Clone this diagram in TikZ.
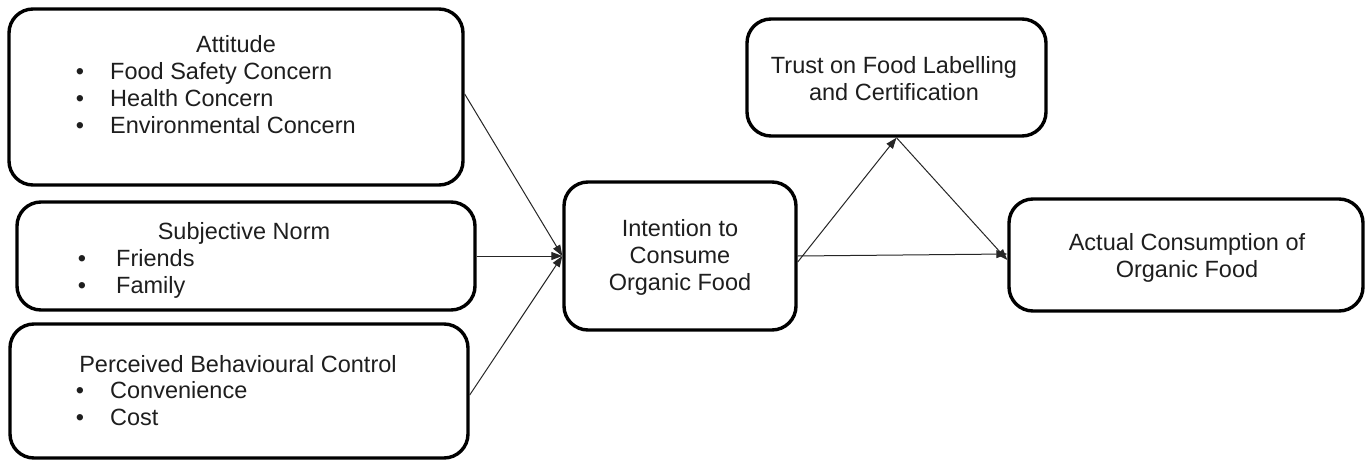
\documentclass[tikz,border=0pt]{standalone}
\usepackage{fontspec}
\setmainfont{Liberation Sans}
\usetikzlibrary{arrows.meta,calc}
\definecolor{txt}{HTML}{1E1E1E}
\tikzset{
  box/.style={draw=black, line width=3.4pt, rounded corners=24pt, fill=white, inner sep=0pt},
  lbl/.style={anchor=base, inner sep=0pt, text=txt, font=\fontsize{23.5}{27}\selectfont},
  itm/.style={anchor=base west, inner sep=0pt, text=txt, font=\fontsize{23.5}{27}\selectfont},
  blt/.style={anchor=base, inner sep=0pt, text=txt, font=\fontsize{23.5}{27}\selectfont},
  conn/.style={draw=black!85, line width=1pt, -{Triangle[length=11pt,width=8pt]}},
}
\begin{document}
\begin{tikzpicture}[x=1pt,y=-1pt]
\useasboundingbox[fill=white] (0,0) rectangle (1368,463);
% boxes
\node[box, minimum width=454pt, minimum height=176pt] (att) at (236,97) {};
\node[box, minimum width=458pt, minimum height=108pt] (sub) at (246,256) {};
\node[box, minimum width=458pt, minimum height=134pt] (pbc) at (239,391) {};
\node[box, minimum width=232pt, minimum height=148pt] (int) at (680,256) {};
\node[box, minimum width=299pt, minimum height=117pt] (tru) at (896.5,77.5) {};
\node[box, minimum width=354pt, minimum height=112pt] (act) at (1186,255) {};
% attitude text
\node[lbl] (attT) at (236,52) {Attitude};
\node[blt] (attB1) at (80,79) {•};
\node[itm] (attI1) at (110,79) {Food Safety Concern};
\node[blt] (attB2) at (80,106) {•};
\node[itm] (attI2) at (110,106) {Health Concern};
\node[blt] (attB3) at (80,133) {•};
\node[itm] (attI3) at (110,133) {Environmental Concern};
% subjective norm text
\node[lbl] (subT) at (244,239) {Subjective Norm};
\node[blt] (subB1) at (82,266) {•};
\node[itm] (subI1) at (116,266) {Friends};
\node[blt] (subB2) at (82,293) {•};
\node[itm] (subI2) at (116,293) {Family};
% PBC text
\node[lbl] (pbcT) at (238,372) {Perceived Behavioural Control};
\node[blt] (pbcB1) at (80,398) {•};
\node[itm] (pbcI1) at (110,398) {Convenience};
\node[blt] (pbcB2) at (80,425) {•};
\node[itm] (pbcI2) at (110,425) {Cost};
% intention text
\node[lbl] (intT1) at (680,236) {Intention to};
\node[lbl] (intT2) at (680,263) {Consume};
\node[lbl] (intT3) at (680,290) {Organic Food};
% trust text
\node[lbl] (truT1) at (894,73) {Trust on Food Labelling};
\node[lbl] (truT2) at (894,100) {and Certification};
% actual text
\node[lbl] (actT1) at (1187,250) {Actual Consumption of};
\node[lbl] (actT2) at (1187,277) {Organic Food};
% connectors
\draw[conn] ([yshift=3pt]att.east) -- (int.west);
\draw[conn] (sub.east) -- (int.west);
\draw[conn] ([yshift=-4pt]pbc.east) -- (int.west);
\draw[conn] ([yshift=-6pt]int.east) -- (tru.south);
\draw[conn] (tru.south) -- ([yshift=-5pt]act.west);
\draw[conn] (int.east) -- ([yshift=1pt]act.west);
\end{tikzpicture}
\end{document}
